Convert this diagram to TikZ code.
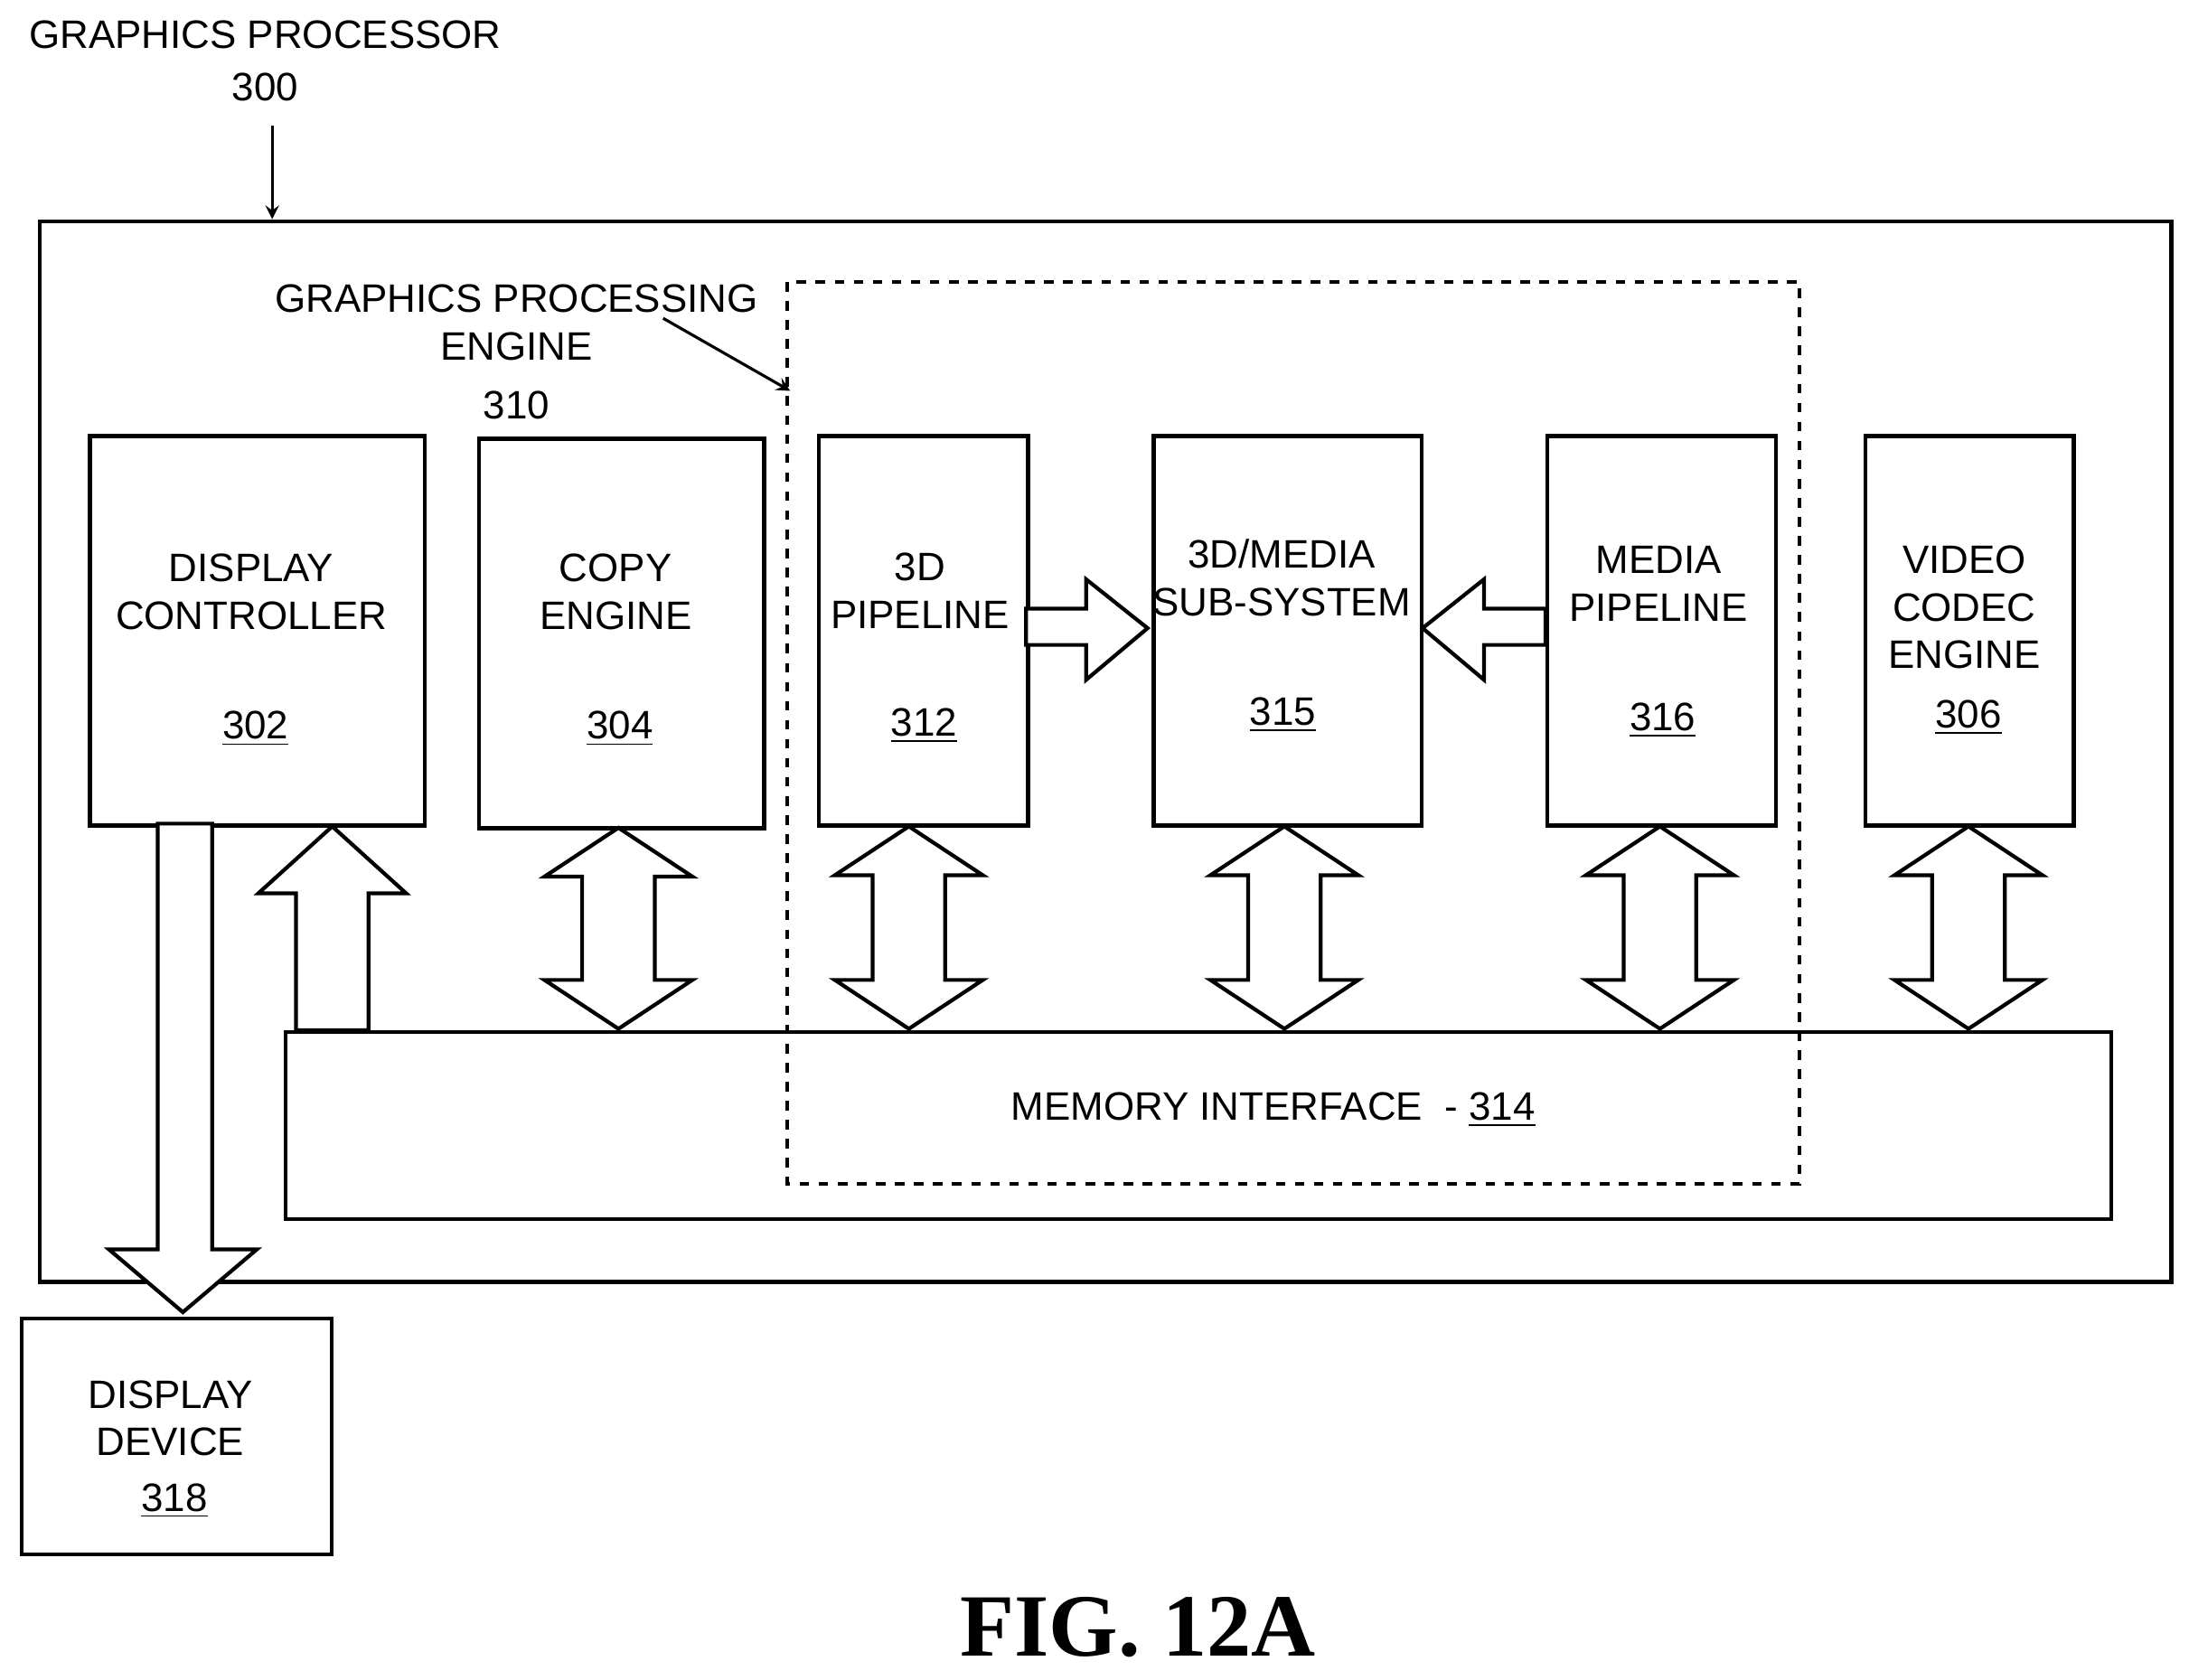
\documentclass[tikz,border=0pt]{standalone}
\usepackage{fontspec}
\setmainfont{Liberation Sans}
\newfontfamily\figfont{Liberation Serif}
\usetikzlibrary{positioning}
\tikzset{
  box/.style={draw=black, line width=1.2pt, anchor=north west, inner sep=0pt},
  lbl/.style={font=\fontsize{12.5}{15}\selectfont, align=center, inner sep=0pt},
  blk/.style={draw=black, line width=1.2pt, fill=white, line join=miter},
  arrow/.style={line width=0.9pt, ->, >=stealth}
}
% vertical double-headed block arrow: centre x, top tip y, bottom tip y
\newcommand{\vdbl}[3]{%
  \draw[blk] (#1,#2) -- (#1+53,#2+35) -- (#1+26,#2+35) -- (#1+26,#3-35) -- (#1+53,#3-35)
    -- (#1,#3) -- (#1-53,#3-35) -- (#1-26,#3-35) -- (#1-26,#2+35) -- (#1-53,#2+35) -- cycle;}
\begin{document}
\begin{tikzpicture}[x=0.01545cm, y=-0.01545cm]
\useasboundingbox (0,0) rectangle (1568,1203);

% outer processor and engine frame
\node (GP) [box, minimum width=1527*0.01545cm, minimum height=760*0.01545cm] at (27,157) {};
\node (GPt) [lbl] at (190,25) {GRAPHICS PROCESSOR};
\node (GPn) [lbl, below=0.25cm of GPt] {300};
\coordinate (GParr) at (195,90);
\draw[arrow] (GParr) -- (GParr |- GP.north);

\draw[line width=1.2pt, dashed] (564,202) rectangle (1289,848);
\node (GPE) [lbl] at (370,231) {GRAPHICS PROCESSING\\ENGINE};
\node (GPEn) [lbl] at (370,290) {310};
\coordinate (GPEa) at (475,228);
\coordinate (GPEb) at (566,280);
\draw[arrow] (GPEa) -- (GPEb);

% blocks
\node (DC) [box, minimum width=240*0.01545cm, minimum height=279*0.01545cm] at (63,311) {};
\node (CE) [box, minimum width=204*0.01545cm, minimum height=279*0.01545cm] at (342,313) {};
\node (TP) [box, minimum width=150*0.01545cm, minimum height=279*0.01545cm] at (585,311) {};
\node (SS) [box, minimum width=192*0.01545cm, minimum height=279*0.01545cm] at (825,311) {};
\node (MP) [box, minimum width=164*0.01545cm, minimum height=279*0.01545cm] at (1107,311) {};
\node (VC) [box, minimum width=149*0.01545cm, minimum height=279*0.01545cm] at (1335,311) {};
\node (MI) [box, minimum width=1308*0.01545cm, minimum height=134*0.01545cm] at (203,738) {};
\node (DD) [box, minimum width=222*0.01545cm, minimum height=169*0.01545cm] at (14,943) {};

\node [lbl] at (180,424) {DISPLAY\\CONTROLLER};
\node [lbl] at (183,522) {\underline{302}};
\node [lbl] at (441,424) {COPY\\ENGINE};
\node [lbl] at (444,522) {\underline{304}};
\node [lbl] at (659,423) {3D\\PIPELINE};
\node [lbl] at (662,520) {\underline{312}};
\node [lbl] at (918,414) {3D/MEDIA\\SUB-SYSTEM};
\node [lbl] at (919,512) {\underline{315}};
\node [lbl] at (1188,418) {MEDIA\\PIPELINE};
\node [lbl] at (1191,516) {\underline{316}};
\node [lbl] at (1407,435) {VIDEO\\CODEC\\ENGINE};
\node [lbl] at (1410,514) {\underline{306}};
\node [lbl] at (912,795) {MEMORY INTERFACE \ - \underline{314}};
\node [lbl] at (122,1016) {DISPLAY\\DEVICE};
\node [lbl] at (125,1075) {\underline{318}};
\node (FIG) [font=\figfont\fontsize{28}{32}\selectfont\bfseries, inner sep=0pt] at (815,1166) {FIG. 12A};

% block arrows to memory interface
\vdbl{443}{593}{737}
\vdbl{651}{592}{737}
\vdbl{920}{592}{737}
\vdbl{1189}{592}{737}
\vdbl{1410}{592}{737}

% display controller up arrow from memory interface
\draw[blk] (238,592) -- (291,640) -- (264,640) -- (264,738) -- (212,738) -- (212,640) -- (185,640) -- cycle;
% display controller down arrow to display device
\draw[blk] (113,590) -- (152,590) -- (152,895) -- (184,895) -- (131,940) -- (78,895) -- (113,895) -- cycle;

% horizontal arrows into sub-system
\draw[blk] (735,436) -- (778,436) -- (778,415) -- (822,450) -- (778,487) -- (778,462) -- (735,462) -- cycle;
\draw[blk] (1107,436) -- (1063,436) -- (1063,415) -- (1019,450) -- (1063,487) -- (1063,462) -- (1107,462) -- cycle;
\end{tikzpicture}
\end{document}
